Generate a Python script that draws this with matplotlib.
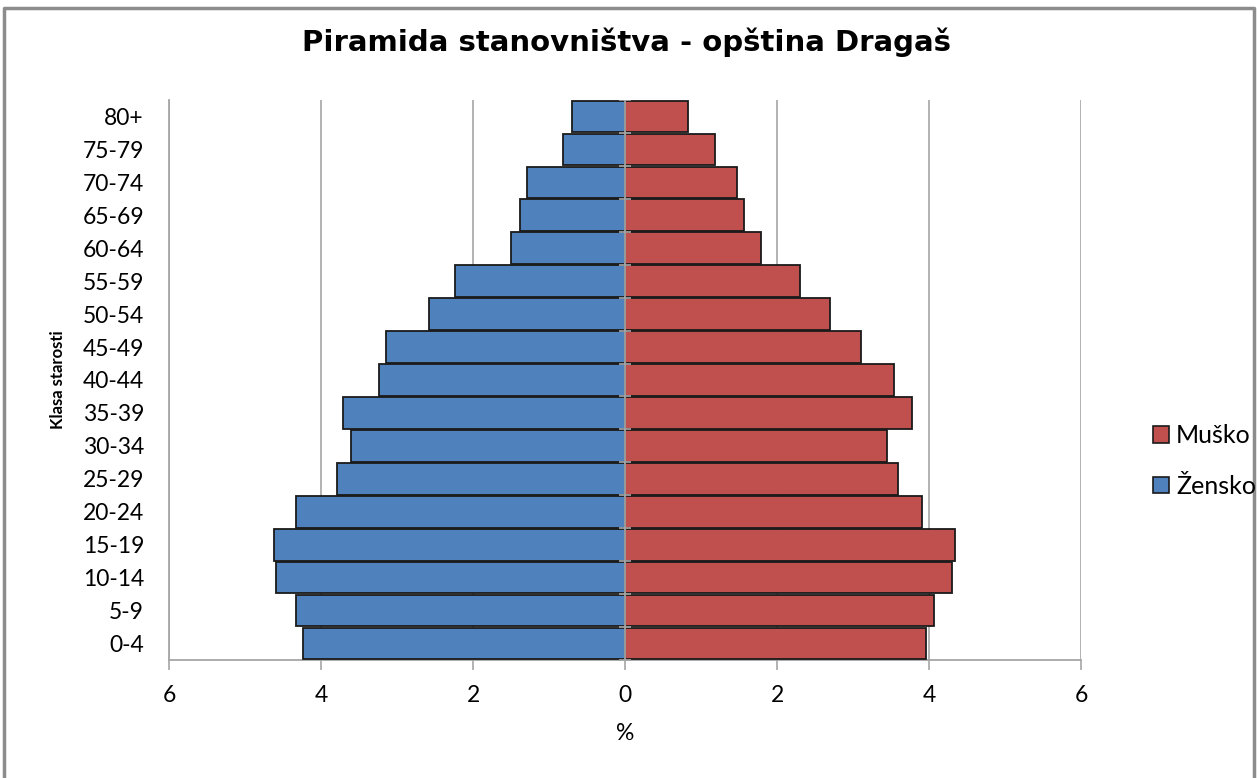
import matplotlib

matplotlib.use("Agg")
import matplotlib.pyplot as plt
import numpy as np
from matplotlib.lines import Line2D
from matplotlib.patches import Patch

plt.rcParams["font.family"] = ["Lato", "DejaVu Sans"]

AGE_GROUPS = ["0-4", "5-9", "10-14", "15-19", "20-24", "25-29", "30-34", "35-39",
              "40-44", "45-49", "50-54", "55-59", "60-64", "65-69", "70-74", "75-79", "80+"]
ZENSKO = [4.24, 4.33, 4.59, 4.62, 4.33, 3.79, 3.61, 3.71,
          3.24, 3.14, 2.58, 2.24, 1.50, 1.38, 1.29, 0.82, 0.70]
MUSKO = [3.96, 4.07, 4.30, 4.34, 3.91, 3.59, 3.45, 3.78,
         3.54, 3.11, 2.70, 2.30, 1.79, 1.57, 1.47, 1.18, 0.83]
XTICKS = [-6, -4, -2, 0, 2, 4, 6]

BLUE = "#4F81BD"
RED = "#C0504D"
GRID = "#A6A6A6"

fig = plt.figure(figsize=(12.57, 7.78), dpi=100)
ax = fig.add_axes([169 / 1257, 1 - 660 / 778, 912 / 1257, 560 / 778])

y = np.arange(len(AGE_GROUPS))
ax.barh(y, [-v for v in ZENSKO], height=0.96, color=BLUE, edgecolor="#1a1a1a", lw=1.3, zorder=3)
ax.barh(y, MUSKO, height=0.96, color=RED, edgecolor="#1a1a1a", lw=1.3, zorder=3)

# vertical axis through zero, with small category ticks
ax.axvline(0, color=GRID, lw=1.3, zorder=4)
ax.plot(np.zeros(len(y) + 1), np.arange(len(y) + 1) - 0.5, ls="none", marker="_",
        ms=8, mew=1.2, color=GRID, zorder=4)

ax.set_xlim(-6, 6)
ax.set_ylim(-0.5, len(y) - 0.5)
ax.set_xticks(XTICKS)
ax.set_xticklabels([str(abs(t)) for t in XTICKS], fontsize=16.5)
ax.set_yticks(y)
ax.set_yticklabels(AGE_GROUPS, fontsize=16.5)
ax.tick_params(axis="y", length=0, pad=18)
ax.tick_params(axis="x", length=7, width=1.2, color=GRID, pad=11)
ax.xaxis.grid(True, color=GRID, lw=1.2, zorder=0)
ax.set_axisbelow(True)
for s in ("top", "right"):
    ax.spines[s].set_visible(False)
for s in ("left", "bottom"):
    ax.spines[s].set_color(GRID)
    ax.spines[s].set_linewidth(1.3)

ax.set_xlabel("%", fontsize=16.5, labelpad=12)
ax.set_ylabel("Klasa starosti", fontsize=12, fontweight="bold", labelpad=12)

fig.text(627 / 1257, 1 - 51 / 778, "Piramida stanovništva - opština Dragaš",
         ha="center", va="baseline", fontsize=21, fontweight="bold",
         family=["DejaVu Sans"])

handles = [Patch(facecolor=RED, edgecolor="#1a1a1a", lw=1.2),
           Patch(facecolor=BLUE, edgecolor="#1a1a1a", lw=1.2)]
fig.legend(handles, ["Muško", "Žensko"], loc="center left",
           bbox_to_anchor=(1140 / 1257, 1 - 461 / 778), frameon=False,
           fontsize=18, handlelength=0.65, handleheight=0.65, handletextpad=0.3,
           labelspacing=1.1, borderpad=0)

# outer chart border
fig.add_artist(Line2D([4 / 1257, 4 / 1257, 1254 / 1257, 1254 / 1257],
                      [0, 1 - 8 / 778, 1 - 8 / 778, 0],
                      transform=fig.transFigure, color="#8C8C8C", lw=2.5))

fig.savefig("out.png", dpi=100)
